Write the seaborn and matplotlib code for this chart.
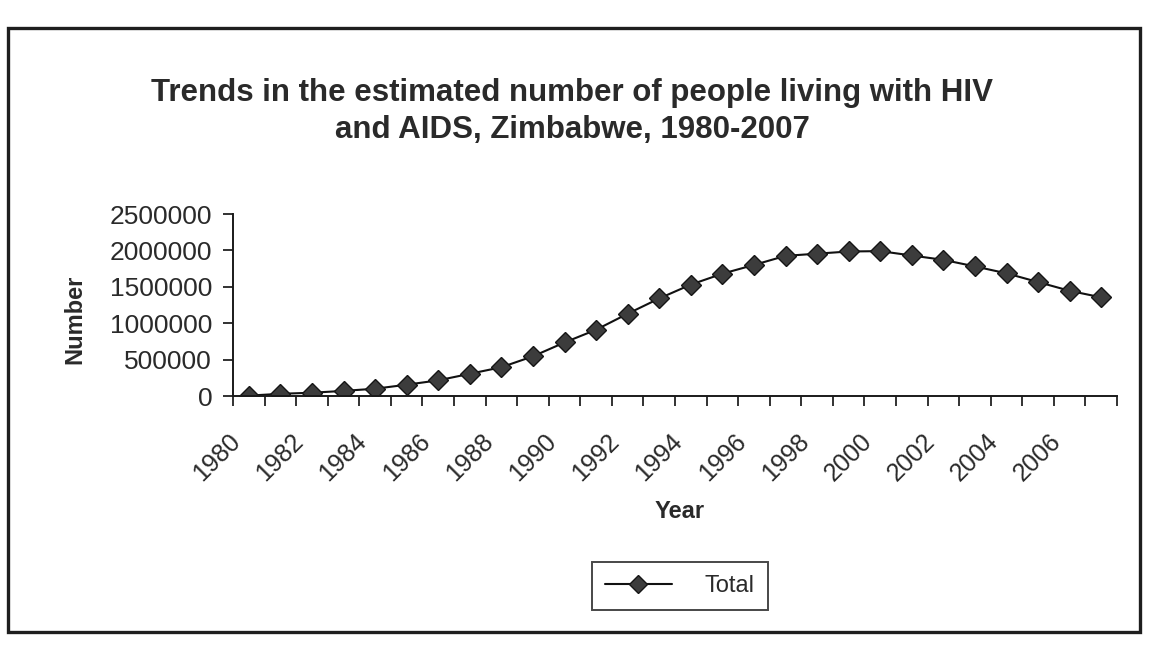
import matplotlib
matplotlib.use("Agg")
import matplotlib.pyplot as plt
import matplotlib.transforms as mtransforms
from matplotlib.patches import Rectangle
from matplotlib.lines import Line2D
from matplotlib.ticker import FixedLocator, NullFormatter
import seaborn as sns
import pandas as pd

# Estimated number of people living with HIV and AIDS, Zimbabwe
years = list(range(1980, 2008))
total = [5000, 30000, 45000, 70000, 100000, 155000, 215000, 305000,
         395000, 545000, 735000, 910000, 1130000, 1340000, 1530000,
         1680000, 1800000, 1925000, 1955000, 1985000, 1990000, 1930000,
         1870000, 1780000, 1685000, 1565000, 1445000, 1355000]
y_ticks = [0, 500000, 1000000, 1500000, 2000000, 2500000]
x_label_years = list(range(1980, 2007, 2))

sns.set_theme(style="white")
plt.rcParams["font.family"] = ["Liberation Sans", "DejaVu Sans"]
ink = "#2a2a2a"

df = pd.DataFrame({"Year": years, "Total": total})

fig = plt.figure(figsize=(11.52, 6.46), dpi=100)
W, H = 1152, 646
left_px, right_px, top_px, bot_px = 233, 1117, 214, 396
ax = fig.add_axes([left_px / W, 1 - bot_px / H,
                   (right_px - left_px) / W, (bot_px - top_px) / H])

sns.lineplot(data=df, x="Year", y="Total", ax=ax, color="#111111",
             linewidth=1.5, marker="D", markersize=10,
             markerfacecolor="#3c3c3c", markeredgecolor="#151515",
             markeredgewidth=1.0, legend=False)

ax.set_xlim(1979.5, 2007.5)
ax.set_ylim(0, 2500000)

# y axis
ax.set_yticks(y_ticks)
ax.set_yticklabels([str(v) for v in y_ticks], fontsize=19, color=ink)
ax.tick_params(axis="y", direction="out", length=7, width=1.3,
               color="#222222", pad=8, left=True)

# x axis: tick marks between categories, labels on every other year
ax.set_xticks(x_label_years)
ax.set_xticklabels([str(y) for y in x_label_years], fontsize=18,
                   color=ink, rotation=45, ha="right", va="center",
                   rotation_mode="anchor")
ax.xaxis.set_minor_locator(FixedLocator([y - 0.5 for y in years] + [2007.5]))
ax.xaxis.set_minor_formatter(NullFormatter())
ax.tick_params(axis="x", which="major", length=0, pad=30)
ax.tick_params(axis="x", which="minor", direction="out", length=7,
               width=1.3, color="#222222", bottom=True)
shift = mtransforms.ScaledTranslation(-12 / 100, 0, fig.dpi_scale_trans)
for lab in ax.get_xticklabels():
    lab.set_transform(lab.get_transform() + shift)

for side in ["top", "right"]:
    ax.spines[side].set_visible(False)
for side in ["left", "bottom"]:
    ax.spines[side].set_color("#1a1a1a")
    ax.spines[side].set_linewidth(1.4)

ax.set_xlabel("Year", fontsize=17, fontweight="bold", color=ink)
ax.set_ylabel("Number", fontsize=17, fontweight="bold", color=ink)
ax.xaxis.set_label_coords((680 - left_px) / (right_px - left_px),
                          (bot_px - 512) / (bot_px - top_px))
ax.yaxis.set_label_coords((75 - left_px) / (right_px - left_px), 0.42)
ax.xaxis.label.set_va("center")
ax.yaxis.label.set_va("center")

# title
fig.text(572 / W, 1 - 93 / H,
         "Trends in the estimated number of people living with HIV",
         ha="center", va="center", fontsize=22.5, fontweight="bold", color=ink)
fig.text(572 / W, 1 - 130 / H, "and AIDS, Zimbabwe, 1980-2007",
         ha="center", va="center", fontsize=22.5, fontweight="bold", color=ink)

# legend
handle = Line2D([], [], color="#111111", linewidth=1.5, marker="D",
                markersize=9, markerfacecolor="#3c3c3c",
                markeredgecolor="#151515")
leg = fig.legend([handle], ["Total"], loc="center",
                 bbox_to_anchor=(680 / W, 1 - 586 / H), frameon=True,
                 fontsize=17, handlelength=2.8, handletextpad=1.4,
                 borderpad=0.55, fancybox=False, edgecolor="#1a1a1a")
leg.get_frame().set_linewidth(1.4)
for t in leg.get_texts():
    t.set_color(ink)

# outer chart border
fig.patches.append(Rectangle((8 / W, 1 - 632 / H), (1140 - 8) / W,
                             (632 - 28) / H, transform=fig.transFigure,
                             fill=False, edgecolor="#1e1e1e", linewidth=2.4))

fig.savefig("out.png", dpi=100)
